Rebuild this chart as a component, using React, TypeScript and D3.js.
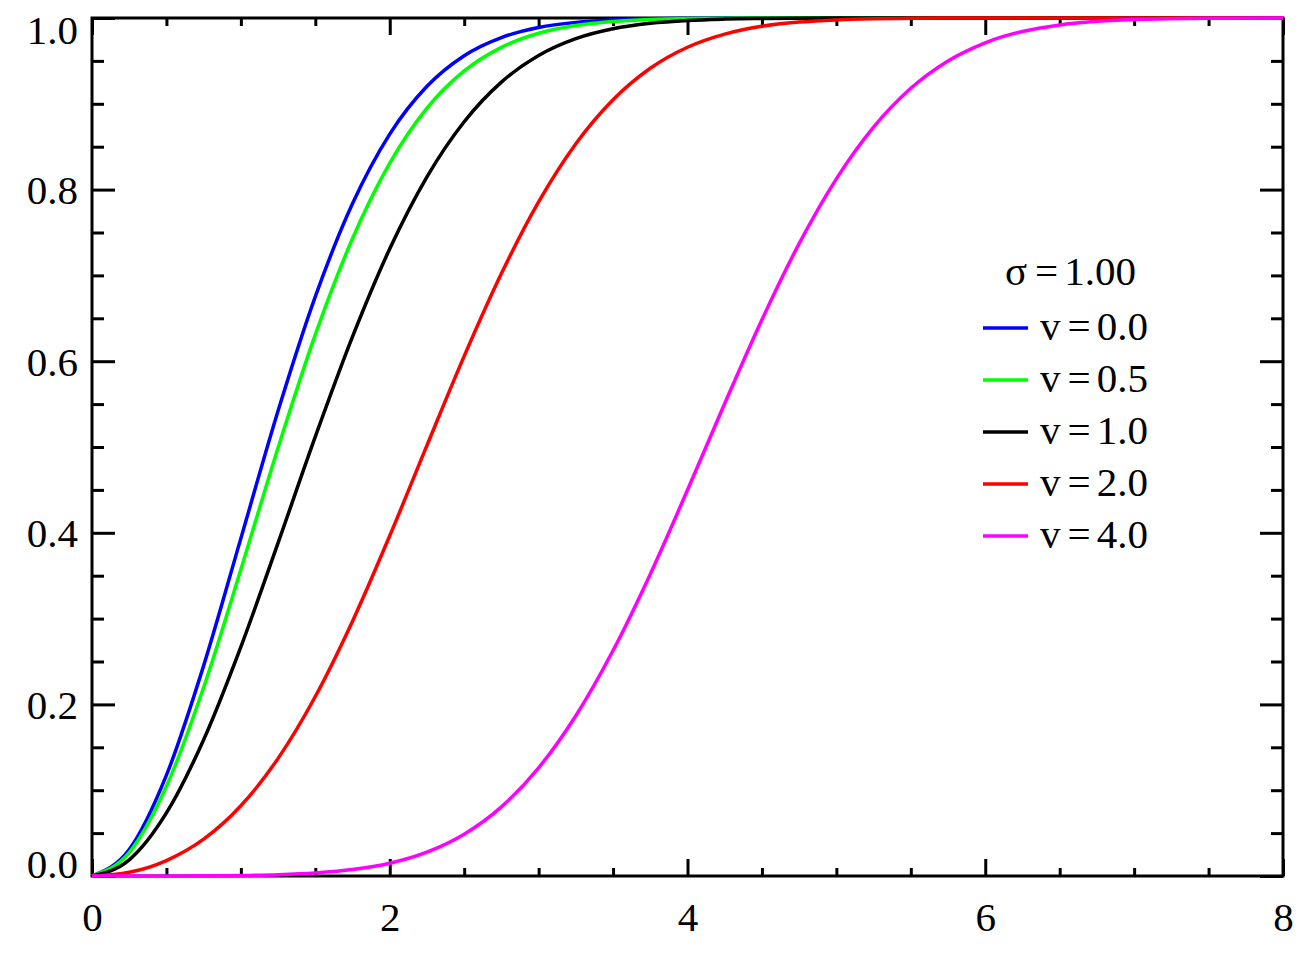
import React, { useEffect, useRef } from 'react';
import * as d3 from 'd3';

const xGrid = [0, 0.25, 0.5, 0.75, 1, 1.25, 1.5, 1.75, 2, 2.25, 2.5, 2.75, 3, 3.25, 3.5, 3.75, 4, 4.25, 4.5, 4.75, 5, 5.25, 5.5, 5.75, 6, 6.5, 7, 7.5, 8];

const cdfV00 = [0, 0.0308, 0.1175, 0.2452, 0.3935, 0.5422, 0.6753, 0.7837, 0.8647, 0.9204, 0.9561, 0.9772, 0.9889, 0.9949, 0.9978, 0.9991, 0.9997, 0.9999, 1, 1, 1, 1, 1, 1, 1, 1, 1, 1, 1];
const cdfV05 = [0, 0.0272, 0.1045, 0.22, 0.3573, 0.4992, 0.6309, 0.743, 0.8308, 0.8949, 0.9383, 0.9658, 0.9822, 0.9912, 0.9959, 0.9983, 0.9994, 0.9997, 0.9999, 1, 1, 1, 1, 1, 1, 1, 1, 1, 1];
const cdfV10 = [0, 0.0188, 0.0735, 0.1589, 0.2671, 0.3883, 0.512, 0.6286, 0.731, 0.8149, 0.8791, 0.9253, 0.9563, 0.9759, 0.9874, 0.9938, 0.9971, 0.9987, 0.9995, 0.9998, 0.9999, 1, 1, 1, 1, 1, 1, 1, 1];
const cdfV20 = [0, 0.0043, 0.018, 0.0429, 0.0819, 0.1371, 0.2092, 0.297, 0.3965, 0.5019, 0.6059, 0.7022, 0.7856, 0.8534, 0.9047, 0.9414, 0.9659, 0.9812, 0.9903, 0.9952, 0.9978, 0.9991, 0.9997, 0.9999, 1, 1, 1, 1, 1];
const cdfV40 = [0, 0, 0.0001, 0.0002, 0.0006, 0.0016, 0.0036, 0.0075, 0.0149, 0.0278, 0.0487, 0.0806, 0.1261, 0.1868, 0.2628, 0.3518, 0.4498, 0.5507, 0.6484, 0.737, 0.8125, 0.8728, 0.9181, 0.95, 0.9711, 0.9918, 0.9982, 0.9997, 1];

const seriesNames = ['v=0.0', 'v=0.5', 'v=1.0', 'v=2.0', 'v=4.0'];
const seriesValues = [cdfV00, cdfV05, cdfV10, cdfV20, cdfV40];
const seriesColors = ['#0000ff', '#00ff00', '#000000', '#ff0000', '#ff00ff'];

const xMajorTicks = [0, 2, 4, 6, 8];
const yMajorTicks = [0, 0.2, 0.4, 0.6, 0.8, 1.0];
const sigmaLabel = '1.00';

const FONT = "'Liberation Serif', 'Times New Roman', serif";

function App() {
    const ref = useRef<SVGSVGElement>(null);

    useEffect(() => {
        const svg = d3.select(ref.current);
        svg.selectAll('*').remove();

        const x = d3.scaleLinear().domain([0, 8]).range([92, 1283]);
        const y = d3.scaleLinear().domain([0, 1]).range([876, 18]);

        const xMinor = d3.range(0, 8.001, 0.5).filter(v => !xMajorTicks.includes(v));
        const yMinor = d3.range(0, 1.001, 0.05).map(v => +v.toFixed(2)).filter(v => !yMajorTicks.some(t => Math.abs(t - v) < 1e-6));

        const styleAxis = (g: any) => {
            g.select('.domain').remove();
            g.selectAll('line').attr('stroke', '#000').attr('stroke-width', 3);
            g.selectAll('text')
                .attr('fill', '#000')
                .style('font-family', FONT)
                .style('font-size', '41px');
        };

        // bottom
        svg.append('g').attr('transform', 'translate(0,876)')
            .call(d3.axisBottom(x).tickValues(xMajorTicks).tickSize(-17).tickSizeOuter(0).tickPadding(26).tickFormat(d3.format('d')))
            .call(styleAxis);
        svg.append('g').attr('transform', 'translate(0,876)')
            .call(d3.axisBottom(x).tickValues(xMinor).tickSize(-8).tickSizeOuter(0).tickFormat(() => ''))
            .call(styleAxis);
        // top
        svg.append('g').attr('transform', 'translate(0,18)')
            .call(d3.axisTop(x).tickValues(xMajorTicks).tickSize(-17).tickSizeOuter(0).tickFormat(() => ''))
            .call(styleAxis);
        svg.append('g').attr('transform', 'translate(0,18)')
            .call(d3.axisTop(x).tickValues(xMinor).tickSize(-8).tickSizeOuter(0).tickFormat(() => ''))
            .call(styleAxis);
        // left
        const left = svg.append('g').attr('transform', 'translate(92,0)')
            .call(d3.axisLeft(y).tickValues(yMajorTicks).tickSize(-23).tickSizeOuter(0).tickPadding(14).tickFormat(d3.format('.1f')))
            .call(styleAxis);
        left.selectAll('text').attr('dy', (d: any) => d === 1 ? '0.62em' : d === 0 ? '0.03em' : '0.34em');
        svg.append('g').attr('transform', 'translate(92,0)')
            .call(d3.axisLeft(y).tickValues(yMinor).tickSize(-12).tickSizeOuter(0).tickFormat(() => ''))
            .call(styleAxis);
        // right
        svg.append('g').attr('transform', 'translate(1283,0)')
            .call(d3.axisRight(y).tickValues(yMajorTicks).tickSize(-23).tickSizeOuter(0).tickFormat(() => ''))
            .call(styleAxis);
        svg.append('g').attr('transform', 'translate(1283,0)')
            .call(d3.axisRight(y).tickValues(yMinor).tickSize(-12).tickSizeOuter(0).tickFormat(() => ''))
            .call(styleAxis);

        // frame
        svg.append('rect')
            .attr('x', x(0)).attr('y', y(1))
            .attr('width', x(8) - x(0)).attr('height', y(0) - y(1))
            .attr('fill', 'none').attr('stroke', '#000').attr('stroke-width', 3);

        // curves
        const line = d3.line<number>()
            .x((d, i) => x(xGrid[i]))
            .y(d => y(d))
            .curve(d3.curveMonotoneX);

        seriesValues.forEach((vals, i) => {
            svg.append('path')
                .attr('d', line(vals) as string)
                .attr('fill', 'none')
                .attr('stroke', seriesColors[i])
                .attr('stroke-width', 3.5);
        });

        // legend
        const lg = svg.append('g').style('font-family', FONT).style('font-size', '41px').attr('fill', '#000');
        const title = lg.append('text').attr('x', 1005).attr('y', 285);
        title.append('tspan').text('σ');
        title.append('tspan').attr('dx', 8).text('=');
        title.append('tspan').attr('dx', 6).text(sigmaLabel);

        seriesNames.forEach((name, i) => {
            const ly = 328 + i * 52;
            lg.append('line')
                .attr('x1', 983).attr('x2', 1028)
                .attr('y1', ly).attr('y2', ly)
                .attr('stroke', seriesColors[i]).attr('stroke-width', 3.5);
            const [lhs, rhs] = name.split('=');
            const t = lg.append('text').attr('x', 1040).attr('y', ly + 12);
            t.append('tspan').text(lhs);
            t.append('tspan').attr('dx', 7).text('=');
            t.append('tspan').attr('dx', 6).text(rhs);
        });
    }, []);

    return (
        <svg ref={ref} width={1300} height={975} style={{ position: 'absolute', left: 0, top: 0, background: '#fff' }}></svg>
    );
}

export default App;
